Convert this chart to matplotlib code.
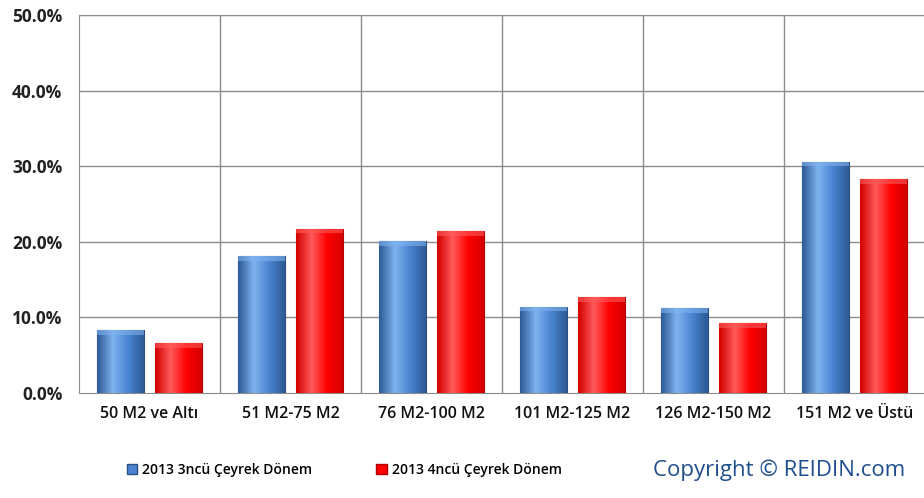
import matplotlib.pyplot as plt
import numpy as np
from matplotlib.patches import Rectangle
from matplotlib.colors import LinearSegmentedColormap

# data
categories = ['50 M2 ve Altı', '51 M2-75 M2', '76 M2-100 M2', '101 M2-125 M2',
              '126 M2-150 M2', '151 M2 ve Üstü']
q3_2013 = [8.3, 18.1, 20.1, 11.4, 11.2, 30.6]
q4_2013 = [6.6, 21.7, 21.4, 12.7, 9.2, 28.3]
series_names = ['2013 3ncü Çeyrek Dönem', '2013 4ncü Çeyrek Dönem']
yticks = [0, 10, 20, 30, 40, 50]

plt.rcParams['font.family'] = ['Open Sans', 'DejaVu Sans']

fig = plt.figure(figsize=(9.24, 4.98), dpi=100)
ax = fig.add_axes([79 / 924, 1 - 393 / 498, 846 / 924, 378 / 498])

x = np.arange(len(categories))
w = 0.33
off = 0.205


def gradient_bars(ax, xs, vals, c_light, c_mid, c_dark, edge):
    bars = ax.bar(xs, vals, width=w, color=c_mid, edgecolor=edge, linewidth=0.8, zorder=3)
    cmap = LinearSegmentedColormap.from_list('g', [c_dark, c_light, c_mid, c_dark])
    for b in bars:
        x0, y0 = b.get_x(), b.get_y()
        bw, bh = b.get_width(), b.get_height()
        im = ax.imshow(np.linspace(0, 1, 64)[None, :], cmap=cmap, aspect='auto',
                       extent=[x0, x0 + bw, y0, y0 + bh], zorder=3.5)
        im.set_clip_path(b)
        # bevel at top
        ax.add_patch(Rectangle((x0, y0 + bh - 0.6), bw, 0.6, facecolor=c_light,
                               edgecolor='none', alpha=0.6, zorder=4))
    return bars


gradient_bars(ax, x - off, q3_2013, '#7fb2f0', '#4a84d0', '#2c5a96', '#2a4f80')
gradient_bars(ax, x + off, q4_2013, '#ff5a5a', '#ff0000', '#d40000', '#b00000')

ax.set_xlim(-0.5, len(categories) - 0.5)
ax.set_ylim(0, 50)
ax.set_yticks(yticks)
ax.set_yticklabels(['%.1f%%' % v for v in yticks], fontsize=12.5, fontweight='bold', color='#222222')
ax.set_xticks(x)
ax.set_xticklabels(categories, fontsize=11.5, fontweight='semibold', color='#111111')
ax.tick_params(axis='both', length=0)
ax.tick_params(axis='y', pad=12)
ax.tick_params(axis='x', pad=9)

# grid lines
for v in yticks[1:]:
    ax.axhline(v, color='#8c8c8c', linewidth=1.0, zorder=1)
for i in range(1, len(categories)):
    ax.axvline(i - 0.5, color='#8c8c8c', linewidth=1.0, zorder=1)
for s in ax.spines.values():
    s.set_color('#8c8c8c')
ax.spines['right'].set_visible(False)

# legend
handles = [Rectangle((0, 0), 1, 1, facecolor='#4a84d0', edgecolor='#2a4f80'),
           Rectangle((0, 0), 1, 1, facecolor='#ff0000', edgecolor='#b00000')]
fig.legend(handles, series_names, loc='center left', bbox_to_anchor=(127 / 924, 1 - 470 / 498),
           ncol=2, frameon=False, handlelength=0.75, handleheight=0.75,
           handletextpad=0.35, columnspacing=4.6, borderpad=0, borderaxespad=0,
           prop={'weight': 'semibold', 'size': 10})

fig.text(905 / 924, 1 - 470 / 498, 'Copyright © REIDIN.com', ha='right', va='center',
         fontsize=16, color='#1f4e8c')

fig.savefig('out.png', dpi=100)
